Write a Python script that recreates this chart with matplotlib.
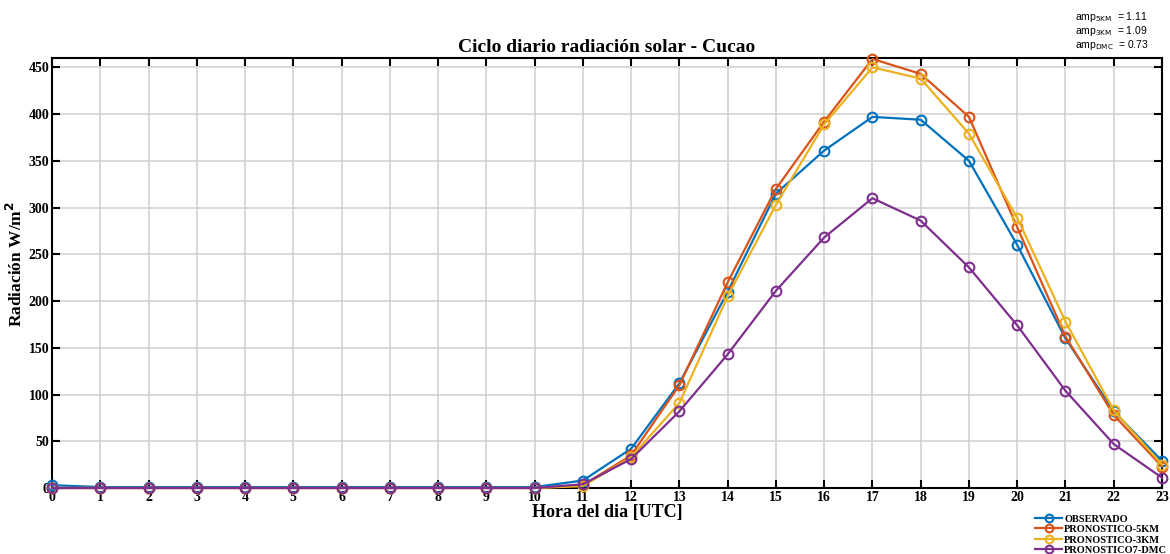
import numpy as np
import matplotlib
matplotlib.use('Agg')
import matplotlib.pyplot as plt

horas = list(range(24))
observado = [3, 1, 1, 1, 1, 1, 1, 1, 1, 1, 1, 8, 42, 112, 210, 315, 361, 397, 394, 350, 260, 160, 82, 29]
pron_5km = [0, 0, 0, 0, 0, 0, 0, 0, 0, 0, 0, 3, 35, 110, 220, 320, 392, 459, 443, 397, 279, 162, 78, 23]
pron_3km = [0, 0, 0, 0, 0, 0, 0, 0, 0, 0, 0, 2, 33, 91, 205, 303, 389, 450, 438, 379, 289, 178, 83, 25]
pron_dmc = [0, 0, 0, 0, 0, 0, 0, 0, 0, 0, 0, 4, 31, 82, 143, 211, 268, 310, 286, 236, 174, 104, 47, 11]
nombres = ['OBSERVADO', 'PRONOSTICO-5KM', 'PRONOSTICO-3KM', 'PRONOSTICO7-DMC']
colores = ['#0072BD', '#D95319', '#EDB120', '#7E2F8E']
amp_txt = [('5KM', '1.11'), ('3KM', '1.09'), ('DMC', '0.73')]

plt.rcParams['font.family'] = ['Liberation Serif', 'DejaVu Serif']

fig = plt.figure(figsize=(11.7, 5.54), dpi=100)
ax = fig.add_axes([52/1170, 1-488/554, 1110/1170, 430/554])

series = [observado, pron_5km, pron_3km, pron_dmc]
for vals, nom, col in zip(series, nombres, colores):
    ax.plot(horas, vals, color=col, lw=1.6, marker='o', ms=7, mfc='none',
            mew=1.5, label=nom, clip_on=False, zorder=3)

ax.set_xlim(0, 23)
ax.set_ylim(0, 460)
ax.set_xticks(horas)
ax.set_yticks(np.arange(0, 451, 50))
ax.grid(True, color='#cfcfcf', lw=1.1)
ax.set_axisbelow(True)
ax.tick_params(direction='in', length=6, width=1.5, top=True, right=True,
               labelsize=10, pad=2)
for lab in ax.get_xticklabels() + ax.get_yticklabels():
    lab.set_fontweight('bold')
for s in ax.spines.values():
    s.set_linewidth(1.5)

ax.set_title('Ciclo diario radiación solar - Cucao', fontsize=14, fontweight='bold', pad=4)
ax.set_xlabel('Hora del dia [UTC]', fontsize=13, fontweight='bold', labelpad=0)
ax.set_ylabel('Radiación W/m$^\\mathbf{2}$', fontsize=12.5, fontweight='bold')
ax.yaxis.set_label_coords(-0.0235, 0.52)

for i, (k, v) in enumerate(amp_txt):
    fig.text(1075/1170, 1-(17+i*14)/554, 'amp$_{\\mathrm{%s}}$  = %s' % (k, v),
             fontsize=7.5, family='Liberation Sans', va='center')

fig.legend(loc='upper left', bbox_to_anchor=(1030/1170, 1-509/554), frameon=False,
           prop={'weight': 'bold', 'size': 7.5}, handlelength=2.6, handletextpad=0.2,
           labelspacing=0.12, borderpad=0, markerscale=0.8)

fig.savefig('out.png', dpi=100)
